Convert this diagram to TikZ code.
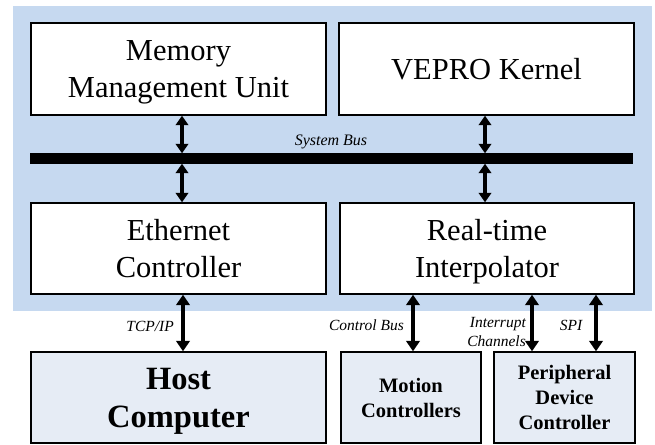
\documentclass[tikz,border=0pt]{standalone}
\usepackage{fontspec}
\setmainfont{Liberation Serif}
\usetikzlibrary{arrows.meta,calc}
\definecolor{bgblue}{HTML}{C6D9F0}
\definecolor{boxgray}{HTML}{E6ECF5}
\tikzset{
  blk/.style={draw=black, line width=2.4pt, fill=white, inner sep=0pt, align=center, text depth=0pt,
    font=\fontsize{30.5}{37}\selectfont},
  extblk/.style={draw=black, line width=2.4pt, fill=boxgray, inner sep=0pt, align=center, text depth=0pt},
  sysarr/.style={line width=3.8pt, {Triangle[width=12.5pt,length=9.5pt]}-{Triangle[width=12.5pt,length=9.5pt]}, shorten <=-0.5pt, shorten >=-0.5pt},
  extarr/.style={line width=4.6pt, {Triangle[width=13.5pt,length=10.5pt]}-{Triangle[width=13.5pt,length=10.5pt]}, shorten <=-0.5pt, shorten >=-0.5pt},
  lbl/.style={font=\fontsize{15.5}{19}\selectfont\itshape, inner sep=0pt, align=right}
}
\begin{document}
\begin{tikzpicture}[x=1pt,y=-1pt]
\useasboundingbox (0,0) rectangle (655,444);
\fill[bgblue] (13,6) rectangle (652,311);
% main boxes
\node[blk, minimum width=295pt, minimum height=92pt] (mmu) at (178.5,69) {Memory\\Management Unit};
\node[blk, minimum width=295pt, minimum height=92pt] (vepro) at (486.5,69) {VEPRO Kernel};
\node[blk, minimum width=295pt, minimum height=91pt] (eth) at (178.5,248.5) {Ethernet\\Controller};
\node[blk, minimum width=294pt, minimum height=91pt] (rti) at (487,248.5) {Real-time\\Interpolator};
% system bus
\node[fill=black, inner sep=0pt, minimum width=603pt, minimum height=11pt] (bus) at (331.5,158.5) {};
\node[lbl, font=\fontsize{16}{19}\selectfont\itshape] (buslbl) at (331,142) {System Bus};
% external boxes
\node[extblk, minimum width=295pt, minimum height=91pt, font=\fontsize{32.5}{38}\selectfont\bfseries] (host) at (178.5,397.5) {Host\\Computer};
\node[extblk, minimum width=140pt, minimum height=91pt, font=\fontsize{20.5}{25}\selectfont\bfseries] (motion) at (411,397.5) {Motion\\Controllers};
\node[extblk, minimum width=141pt, minimum height=91pt, font=\fontsize{20.5}{25}\selectfont\bfseries] (periph) at (564.5,397.5) {Peripheral\\Device\\Controller};
% arrow columns
\coordinate (cl) at (182,0);
\coordinate (cr) at (485,0);
\coordinate (ctcp) at (183,0);
\coordinate (cctl) at (413,0);
\coordinate (cint) at (532,0);
\coordinate (cspi) at (596,0);
% system bus connectors
\draw[sysarr] (mmu.south -| cl) -- (bus.north -| cl);
\draw[sysarr] (bus.south -| cl) -- (eth.north -| cl);
\draw[sysarr] (vepro.south -| cr) -- (bus.north -| cr);
\draw[sysarr] (bus.south -| cr) -- (rti.north -| cr);
% external connectors
\draw[extarr] (eth.south -| ctcp) -- (host.north -| ctcp);
\draw[extarr] (rti.south -| cctl) -- (motion.north -| cctl);
\draw[extarr] (rti.south -| cint) -- (periph.north -| cint);
\draw[extarr] (rti.south -| cspi) -- (periph.north -| cspi);
% labels
\node[lbl, anchor=east] (tcplbl) at (174,326) {TCP/IP};
\node[lbl, anchor=east] (ctllbl) at (404,325) {Control Bus};
\node[lbl, anchor=east] (intlbl) at (526,332) {Interrupt\\Channels};
\node[lbl] (spilbl) at (571,325) {SPI};
\end{tikzpicture}
\end{document}
